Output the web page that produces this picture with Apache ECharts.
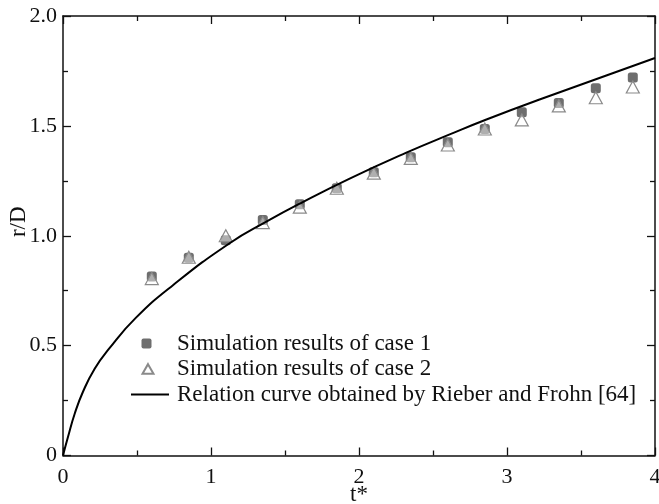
<!DOCTYPE html>
<html>
<head>
<meta charset="utf-8">
<script src="https://cdn.jsdelivr.net/npm/echarts@6/dist/echarts.min.js"></script>
<style>html,body{margin:0;padding:0;background:#fff;}#c{width:659px;height:504px;}</style>
</head>
<body>
<div id="c"></div>
<script>
var tPoints = [0.6, 0.85, 1.1, 1.35, 1.6, 1.85, 2.1, 2.35, 2.6, 2.85, 3.1, 3.35, 3.6, 3.85];
var case1 = [0.815, 0.90, 0.98, 1.072, 1.143, 1.216, 1.289, 1.357, 1.425, 1.486, 1.562, 1.604, 1.671, 1.72];
var case2 = [0.805, 0.902, 1.0, 1.06, 1.13, 1.216, 1.285, 1.352, 1.413, 1.486, 1.527, 1.591, 1.628, 1.677];
var curveT = [0, 0.034, 0.079, 0.135, 0.214, 0.31, 0.49, 0.743, 1.126, 1.374, 1.611, 1.937, 2.32, 2.613, 2.861, 3.22, 4.0];
var curveR = [0, 0.085, 0.19, 0.29, 0.395, 0.485, 0.625, 0.775, 0.966, 1.064, 1.15, 1.26, 1.378, 1.461, 1.529, 1.62, 1.809];
var xTicks = ['0', '1', '2', '3', '4'];
var yTicks = ['0', '0.5', '1.0', '1.5', '2.0'];
var seriesNames = ['Simulation results of case 1', 'Simulation results of case 2', 'Relation curve obtained by Rieber and Frohn [64]'];

function zip(a, b) { return a.map(function (v, i) { return [v, b[i]]; }); }

var font = 'Liberation Serif, Times New Roman, serif';
var axisLine = { show: true, onZero: false, lineStyle: { color: '#111', width: 1.5 } };
var tick = { inside: true, length: 8, lineStyle: { color: '#111', width: 1.3 } };
var minor = { show: true, splitNumber: 2, length: 5, lineStyle: { color: '#111', width: 1.3 } };
var chart = echarts.init(document.getElementById('c'));
chart.setOption({
  animation: false,
  backgroundColor: '#fff',
  grid: { left: 63, top: 16, right: 4, bottom: 48.5, containLabel: false, outerBoundsMode: 'none' },
  legend: {
    orient: 'vertical',
    left: 125,
    top: 327,
    itemWidth: 38,
    itemHeight: 11,
    itemGap: 2.5,
    textStyle: { fontFamily: font, fontSize: 23, lineHeight: 23, color: '#111', padding: [0, 0, 0, 3] },
    data: [
      { name: seriesNames[0], icon: 'path://M0,5L0,5M38,5L38,5M12.5,0H18.5Q20.5,0 20.5,2V8Q20.5,10 18.5,10H12.5Q10.5,10 10.5,8V2Q10.5,0 12.5,0Z' },
      { name: seriesNames[1], icon: 'path://M0,5L0,5M38,5L38,5M17,0.3L22.5,10L11.5,10Z' },
      { name: seriesNames[2], icon: 'path://M0,0H38V1.8H0Z' }
    ]
  },
  xAxis: [{
    type: 'value', min: 0, max: 4, interval: 1,
    name: 't*', nameLocation: 'middle', nameGap: 28, nameMoveOverlap: false,
    nameTextStyle: { fontFamily: font, fontSize: 23, color: '#111' },
    axisLine: axisLine, axisTick: tick, minorTick: minor,
    axisLabel: { fontFamily: font, fontSize: 22, color: '#111', margin: 11,
      formatter: function (v) { return xTicks[Math.round(v)]; } },
    splitLine: { show: false }
  }, {
    type: 'value', position: 'top', min: 0, max: 4, interval: 1,
    axisLine: axisLine, axisTick: tick, minorTick: minor,
    axisLabel: { show: false }, splitLine: { show: false }
  }],
  yAxis: [{
    type: 'value', min: 0, max: 2, interval: 0.5,
    name: 'r/D', nameLocation: 'middle', nameGap: 33, nameMoveOverlap: false,
    nameTextStyle: { fontFamily: font, fontSize: 23, color: '#111', padding: [0, 0, 0, 28] },
    axisLine: axisLine, axisTick: tick, minorTick: minor,
    axisLabel: { fontFamily: font, fontSize: 22, color: '#111', margin: 6,
      formatter: function (v) { return yTicks[Math.round(v * 2)]; } },
    splitLine: { show: false }
  }, {
    type: 'value', position: 'right', min: 0, max: 2, interval: 0.5,
    axisLine: axisLine, axisTick: tick, minorTick: minor,
    axisLabel: { show: false }, splitLine: { show: false }
  }],
  series: [{
    name: seriesNames[0], type: 'scatter', symbol: 'roundRect', symbolSize: 10,
    itemStyle: { color: '#6e6e6e', opacity: 1 },
    data: zip(tPoints, case1), z: 2
  }, {
    name: seriesNames[1], type: 'scatter', symbol: 'triangle', symbolSize: [13, 12],
    itemStyle: { color: 'rgba(255,255,255,0.45)', borderColor: '#8a8a8a', borderWidth: 1.2, opacity: 1 },
    data: zip(tPoints, case2), z: 3
  }, {
    name: seriesNames[2], type: 'line', showSymbol: false, symbol: 'none', smooth: 0.5,
    lineStyle: { color: '#000', width: 2 }, itemStyle: { color: '#000' },
    data: zip(curveT, curveR), z: 4
  }]
});
</script>
</body>
</html>
